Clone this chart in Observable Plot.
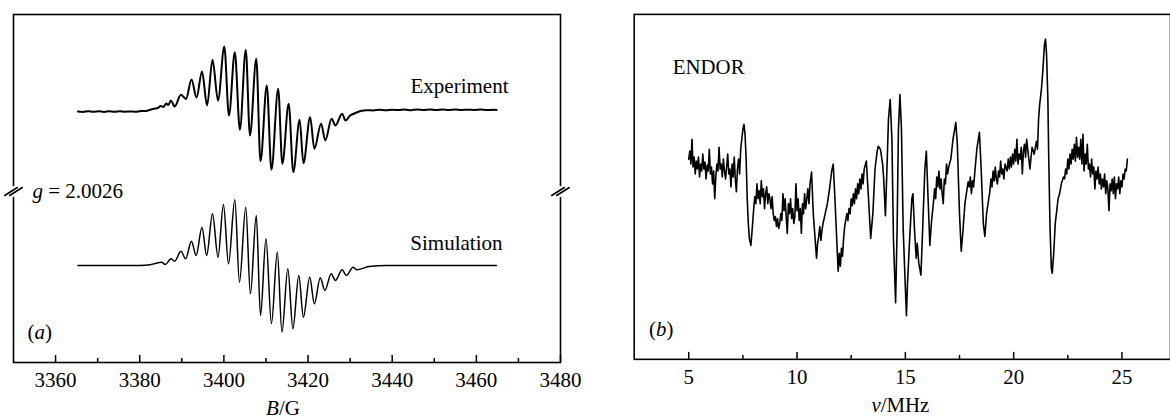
<!DOCTYPE html>
<html>
<head>
<meta charset="utf-8">
<script src="https://cdn.jsdelivr.net/npm/d3@7"></script>
<script src="https://cdn.jsdelivr.net/npm/@observablehq/plot@0.6"></script>
<style>
  html, body { margin: 0; padding: 0; background: #fff; }
  #wrap { position: relative; width: 1170px; height: 419px; overflow: hidden; background: #fff; }
  #pa { position: absolute; left: 0; top: 0; }
  #pb { position: absolute; left: 600px; top: 0; }
</style>
</head>
<body>
<div id="wrap"><div id="pa"></div><div id="pb"></div></div>
<script>
// ---- Panel (a): EPR, field B in gauss, signal in arbitrary units (relative to baseline)
const eprExpB = [3365.3,3366.5,3367.8,3369.0,3370.3,3371.5,3372.8,3374.0,3375.3,3376.5,3377.8,3379.0,3380.3,3381.5,3382.5,3383.4,3384.3,3385.0,3385.6,3386.3,3386.8,3387.4,3388.3,3389.8,3391.0,3392.3,3393.5,3394.8,3396.0,3397.3,3398.6,3400.1,3401.2,3402.6,3403.8,3405.2,3406.2,3407.7,3408.7,3410.2,3411.3,3412.9,3413.9,3415.4,3416.5,3418.0,3418.9,3420.5,3421.5,3423.1,3424.1,3425.6,3426.5,3428.1,3428.9,3430.0,3431.0,3432.5,3434.0,3435.5,3437.0,3438.5,3440.0,3441.5,3443.0,3444.5,3446.0,3447.5,3449.0,3450.5,3452.0,3453.5,3455.0,3456.5,3458.0,3459.5,3461.0,3462.5,3464.0,3464.8];
const eprExpS = [0,-0.4,0.3,-0.3,0.2,-0.4,0.2,-0.3,0.3,-0.2,0.1,-0.3,0.5,0.6,1.8,2.7,3.5,5.5,4.5,8,6.5,11,5,16.7,12.5,32,14,40,6,51.7,11,65,-4,59.3,-18.3,61.7,-24,52.7,-49.7,26,-58.3,22.7,-52.3,7.7,-60.7,-8.3,-51.7,-5.7,-37.3,-12.3,-29,-7.3,-14,-2.3,-9,-4,-2,0.5,1.3,1.1,1.7,1.3,1.8,1.4,1.9,1.3,2.0,1.5,1.9,1.4,2.0,1.6,1.9,1.5,1.8,1.6,1.9,1.4,1.7,1.5];
const eprSimB = [3365.3,3380.0,3382.5,3383.4,3385.2,3386.1,3387.4,3388.3,3389.8,3390.9,3392.3,3393.4,3394.8,3395.9,3397.3,3398.6,3399.9,3401.1,3402.6,3403.7,3405.2,3406.3,3407.7,3408.7,3410.0,3411.3,3412.7,3413.8,3415.2,3416.4,3417.8,3418.9,3420.4,3421.5,3422.9,3424.0,3425.5,3426.5,3428.1,3429.1,3430.7,3431.6,3434.5,3438.7,3464.8];
const eprSimS = [0,0,0.8,1.7,3.3,1,6.7,4.3,14.3,6.7,24.3,10,38.3,10,51.7,8.3,61,1.7,65.7,-16.7,58.3,-28.3,50,-50,26.7,-58.3,13.3,-66.7,-3.3,-63.3,-10,-51.7,-11.7,-38.3,-12.3,-25,-8.3,-15,-4.3,-10,-1.7,-4.3,-1,0,0];
const bMajorTicks = [3360,3380,3400,3420,3440,3460,3480];
const bMinorTicks = [3370,3390,3410,3430,3450,3470];

// ---- Panel (b): ENDOR, frequency in MHz, intensity in arbitrary units
const endorNu = [5.00,5.05,5.10,5.15,5.20,5.25,5.30,5.35,5.40,5.45,5.50,5.55,5.60,5.65,5.70,5.75,5.80,5.85,5.90,5.95,6.00,6.05,6.10,6.15,6.20,6.25,6.30,6.35,6.40,6.45,6.50,6.55,6.60,6.65,6.70,6.75,6.80,6.85,6.90,6.95,7.00,7.05,7.10,7.15,7.20,7.25,7.30,7.35,7.40,7.45,7.50,7.55,7.60,7.65,7.70,7.75,7.80,7.87,7.95,8.00,8.05,8.10,8.15,8.20,8.25,8.30,8.35,8.40,8.45,8.50,8.55,8.60,8.65,8.70,8.75,8.80,8.85,8.90,8.95,9.00,9.05,9.10,9.15,9.20,9.25,9.30,9.35,9.40,9.45,9.50,9.55,9.60,9.65,9.70,9.75,9.80,9.85,9.90,9.95,10.00,10.05,10.10,10.15,10.20,10.25,10.30,10.35,10.40,10.45,10.50,10.55,10.60,10.67,10.75,10.85,10.90,10.95,11.00,11.05,11.10,11.15,11.20,11.30,11.40,11.50,11.60,11.67,11.75,11.85,11.90,11.95,12.00,12.05,12.10,12.15,12.20,12.30,12.35,12.40,12.45,12.50,12.55,12.60,12.65,12.70,12.75,12.80,12.85,12.90,12.95,13.00,13.05,13.10,13.20,13.30,13.40,13.50,13.60,13.70,13.75,13.85,13.95,14.00,14.08,14.15,14.22,14.30,14.38,14.45,14.55,14.62,14.68,14.75,14.82,14.90,15.00,15.05,15.10,15.20,15.30,15.35,15.42,15.50,15.55,15.62,15.72,15.80,15.90,15.97,16.05,16.13,16.20,16.30,16.35,16.40,16.45,16.50,16.55,16.60,16.65,16.70,16.75,16.80,16.85,16.90,16.95,17.00,17.10,17.20,17.33,17.40,17.50,17.58,17.65,17.75,17.85,17.90,17.95,18.00,18.05,18.10,18.15,18.20,18.30,18.42,18.50,18.60,18.67,18.75,18.85,18.90,18.95,19.00,19.05,19.10,19.15,19.20,19.25,19.30,19.35,19.40,19.45,19.50,19.55,19.60,19.70,19.75,19.80,19.85,19.90,19.95,20.00,20.05,20.10,20.15,20.20,20.25,20.30,20.35,20.40,20.45,20.50,20.55,20.60,20.65,20.75,20.85,20.95,21.05,21.10,21.15,21.20,21.28,21.35,21.42,21.47,21.52,21.58,21.62,21.68,21.74,21.78,21.85,21.92,22.00,22.05,22.12,22.20,22.30,22.35,22.40,22.45,22.50,22.55,22.60,22.65,22.70,22.75,22.80,22.85,22.90,22.95,23.00,23.05,23.10,23.15,23.20,23.25,23.30,23.35,23.40,23.45,23.50,23.55,23.60,23.65,23.70,23.75,23.80,23.85,23.90,23.95,24.00,24.05,24.10,24.15,24.20,24.25,24.30,24.35,24.40,24.45,24.50,24.55,24.60,24.65,24.70,24.75,24.80,24.85,24.90,24.95,25.00,25.05,25.10,25.15,25.20,25.25];
const endorI = [202,210,197,222,194,204,187,200,192,204,184,197,190,207,192,199,182,196,190,212,187,194,177,190,162,184,197,190,214,192,197,184,202,190,182,194,207,187,192,174,197,184,204,182,169,192,202,187,212,222,232,237,227,202,162,137,122,115,137,152,164,157,177,162,170,157,180,164,172,152,167,174,157,167,162,152,164,147,140,144,134,142,132,137,147,140,167,150,162,144,127,157,147,162,142,152,137,144,177,150,162,140,152,127,157,147,167,152,162,172,157,177,189,147,117,102,117,124,134,120,130,137,147,157,172,190,197,162,112,89,107,94,112,104,122,134,147,140,152,147,162,155,167,157,172,162,177,167,182,172,187,177,192,200,162,122,147,192,210,215,212,197,182,145,192,242,262,222,122,57,132,232,267,232,132,72,44,77,122,162,167,132,102,117,97,85,132,192,210,162,115,137,159,172,162,184,174,190,172,182,167,157,182,177,197,187,194,202,222,239,217,147,109,127,157,172,179,174,184,167,180,174,187,212,229,192,137,124,147,162,169,182,174,190,180,194,182,177,190,184,200,187,192,182,197,190,202,192,204,194,207,197,212,200,222,197,207,202,214,187,210,217,204,222,212,192,214,207,220,212,242,257,272,292,317,323,307,262,202,132,92,87,107,137,152,162,167,177,184,182,192,187,202,192,207,197,212,202,217,200,224,204,214,202,222,197,227,190,207,197,217,192,197,184,202,187,194,172,190,182,194,177,187,172,182,174,187,167,180,172,150,177,170,182,167,184,162,177,172,184,167,180,174,187,182,192,190,202];
const nuMajorTicks = [5,10,15,20,25];
const nuMinorTicks = [7.5,12.5,17.5,22.5];

const expData = eprExpB.map((b, i) => ({b, s: eprExpS[i]}));
const simData = eprSimB.map((b, i) => ({b, s: eprSimS[i]}));
const endorData = endorNu.map((nu, i) => ({nu, v: endorI[i]}));

const FONT = "'Liberation Serif', 'Times New Roman', serif";
const EXP_BASE = 251, SIM_BASE = 97;   // vertical stacking of the two traces

// axis-break marks: a short white gap in the frame and two slanted strokes
const strokeShape = {draw(context, l) { context.moveTo(0, 0); context.lineTo(0, -l); }};
function breakMark(anchor) {
  return [
    Plot.vector([0], {frameAnchor: anchor, dy: 3, length: 7, rotate: 0, anchor: "middle",
      shape: strokeShape, stroke: "white", strokeWidth: 4}),
    Plot.vector([0], {frameAnchor: anchor, dx: -2.5, dy: 3, length: 15, rotate: 58, anchor: "middle",
      shape: strokeShape, stroke: "black", strokeWidth: 1.6}),
    Plot.vector([0], {frameAnchor: anchor, dx: 2.5, dy: 3, length: 15, rotate: 58, anchor: "middle",
      shape: strokeShape, stroke: "black", strokeWidth: 1.6})
  ];
}

function label(txt, anchor, dx, dy, textAnchor) {
  return Plot.text([txt], {frameAnchor: anchor, text: d => d, textAnchor, lineAnchor: "middle", dx, dy});
}

const plotA = Plot.plot({
  width: 600, height: 419,
  marginLeft: 13, marginRight: 40, marginTop: 14, marginBottom: 57,
  style: {fontFamily: FONT, fontSize: "21px", background: "white", color: "black"},
  x: {domain: [3350, 3480], axis: null},
  y: {domain: [0, 348], axis: null},
  marks: [
    Plot.frame({stroke: "black", strokeWidth: 1.6}),
    Plot.axisX(bMajorTicks, {tickSize: -7, fill: "none", label: null, strokeWidth: 1.5}),
    Plot.axisX(bMinorTicks, {tickSize: -4, fill: "none", label: null, strokeWidth: 1.5}),
    Plot.axisX(bMajorTicks, {tickSize: 0, tickPadding: 10, label: null, tickFormat: d => String(d)}),
    Plot.line(expData, {x: "b", y: d => d.s + EXP_BASE, stroke: "black", strokeWidth: 2, curve: "monotone-x"}),
    Plot.line(simData, {x: "b", y: d => d.s + SIM_BASE, stroke: "black", strokeWidth: 1.5, curve: "monotone-x"}),
    label("Experiment", "top-right", -52, 72, "end"),
    label("Simulation", "top-right", -58, 229, "end"),
    label("g = 2.0026", "top-left", 19, 177, "start"),
    label("(a)", "bottom-left", 14, -30, "start"),
    label("B/G", "bottom", -4, 46, "middle"),
    ...breakMark("left"),
    ...breakMark("right")
  ]
});

const plotB = Plot.plot({
  width: 575, height: 419,
  marginLeft: 34, marginRight: 0, marginTop: 14, marginBottom: 57,
  style: {fontFamily: FONT, fontSize: "21px", background: "white", color: "black", overflow: "visible"},
  x: {domain: [2.483, 27.24], axis: null},
  y: {domain: [0, 348], axis: null},
  marks: [
    Plot.frame({stroke: "black", strokeWidth: 1.6}),
    Plot.axisX(nuMajorTicks, {tickSize: -7, fill: "none", label: null, strokeWidth: 1.5}),
    Plot.axisX(nuMinorTicks, {tickSize: -4, fill: "none", label: null, strokeWidth: 1.5}),
    Plot.axisX(nuMajorTicks, {tickSize: 0, tickPadding: 10, label: null, tickFormat: d => String(d)}),
    Plot.line(endorData, {x: "nu", y: "v", stroke: "black", strokeWidth: 1.6}),
    label("ENDOR", "top-left", 39, 53, "start"),
    label("(b)", "bottom-left", 15, -30, "start"),
    label("ν/MHz", "bottom", -2, 46, "middle")
  ]
});

// mixed italic/upright label text
const italics = {
  "g = 2.0026": '<tspan font-style="italic">g</tspan> = 2.0026',
  "(a)": '(<tspan font-style="italic">a</tspan>)',
  "(b)": '(<tspan font-style="italic">b</tspan>)',
  "B/G": '<tspan font-style="italic">B</tspan>/G',
  "ν/MHz": '<tspan font-style="italic">ν</tspan>/MHz'
};
for (const svg of [plotA, plotB]) {
  d3.select(svg).selectAll("text").each(function() {
    const t = this.textContent;
    if (italics[t] && this.children.length === 0) this.innerHTML = italics[t];
  });
}

document.getElementById("pa").appendChild(plotA);
document.getElementById("pb").appendChild(plotB);
</script>
</body>
</html>
